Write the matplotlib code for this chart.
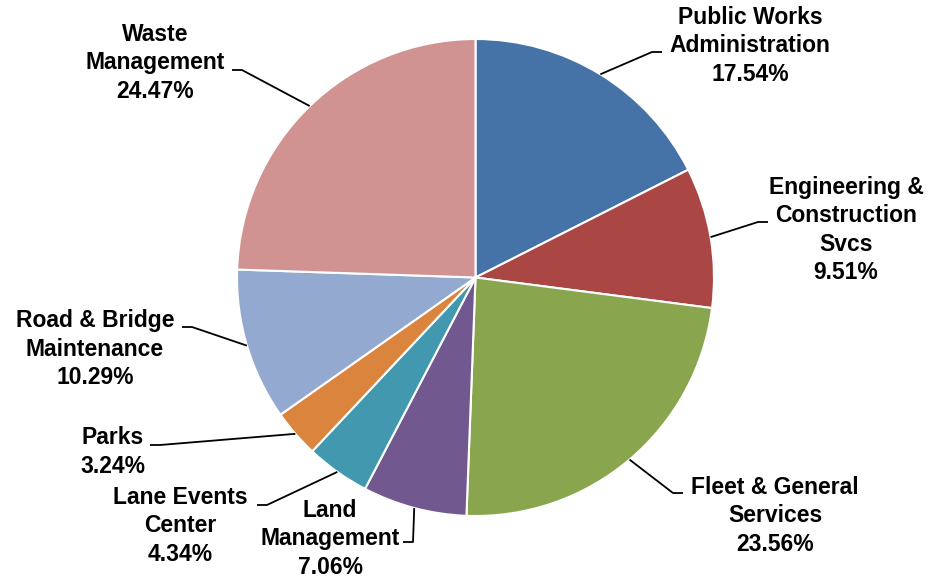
import numpy as np
import matplotlib
matplotlib.use("Agg")
from matplotlib import pyplot as plt

labels = ["Public Works\nAdministration", "Engineering &\nConstruction\nSvcs", "Fleet & General\nServices",
          "Land\nManagement", "Lane Events\nCenter", "Parks", "Road & Bridge\nMaintenance", "Waste\nManagement"]
shares = [17.54, 9.51, 23.56, 7.06, 4.34, 3.24, 10.29, 24.47]
colors = ["#4572A7", "#AA4643", "#89A54E", "#71588F", "#4198AF", "#DB843D", "#93A9CF", "#D19392"]

W, H = 930, 579

# label layout in pixels from top-left: text centre, leader attach point
text_pos = [(750, 46), (846, 230), (775, 516), (330, 539), (180, 526), (113, 452), (95, 349), (155, 63)]
attach_pos = [(662, 52), (768, 222), (683, 493), (403, 542), (257, 505), (150, 445), (182, 327), (232, 70)]


def px(x, y):
	return x, H - y


fig = plt.figure(figsize=(W / 100, H / 100), dpi=100)
ax = fig.add_axes([0, 0, 1, 1])

center = px(475.5, 277.5)
radius = 238.5
wedges, _ = ax.pie(shares, colors=colors, startangle=90, counterclock=False,
                   center=center, radius=radius,
                   wedgeprops=dict(edgecolor="white", linewidth=1.5))
ax.set_xlim(0, W)
ax.set_ylim(0, H)
ax.set_aspect("auto")
ax.axis("off")

for i, w in enumerate(wedges):
	mid = np.deg2rad((w.theta1 + w.theta2) / 2)
	ex = center[0] + radius * np.cos(mid)
	ey = center[1] + radius * np.sin(mid)
	tx, ty = px(*text_pos[i])
	axx, axy = px(*attach_pos[i])
	step = 10 if ex > axx else -10
	ax.plot([axx, axx + step, ex], [axy, axy, ey], color="black", lw=1.3,
	        solid_capstyle="butt", clip_on=False)
	ax.text(tx, ty, "{0}\n{1:.2f}%".format(labels[i], shares[i]), ha="center", va="center",
	        multialignment="center", fontsize=16.5, fontweight="bold",
	        family="Liberation Sans", linespacing=1.3)

fig.savefig("out.png", dpi=100)
